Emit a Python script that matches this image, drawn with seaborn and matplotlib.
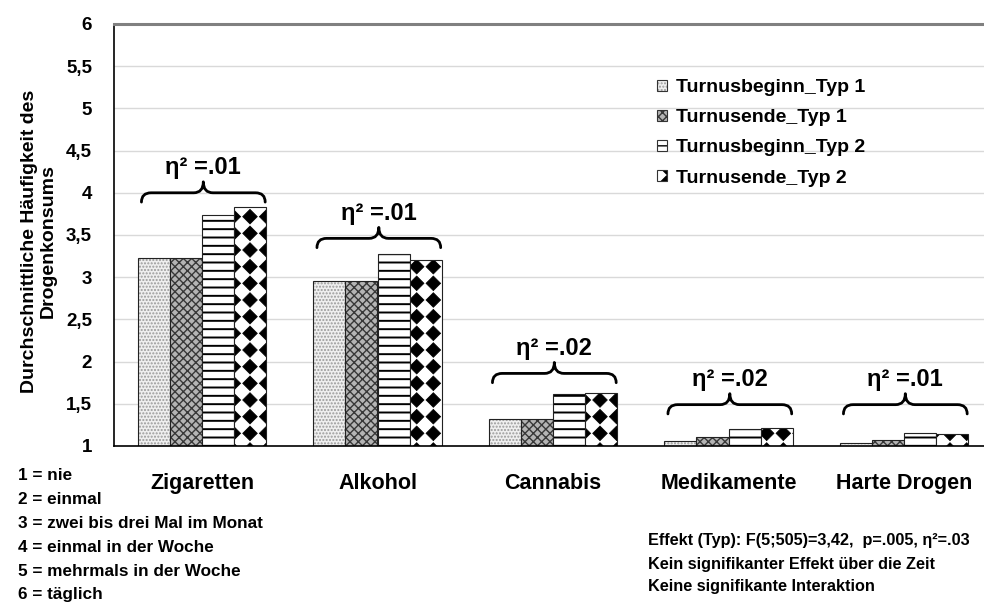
import numpy as np
import pandas as pd
import matplotlib
matplotlib.use('Agg')
import matplotlib.pyplot as plt
import matplotlib.hatch as mhatch
import matplotlib.patches as mpatches
import matplotlib.colors as mcolors
from matplotlib.path import Path
import seaborn as sns

# ---------------- data ----------------
categories = ['Zigaretten', 'Alkohol', 'Cannabis', 'Medikamente', 'Harte Drogen']
series = ['Turnusbeginn_Typ 1', 'Turnusende_Typ 1', 'Turnusbeginn_Typ 2', 'Turnusende_Typ 2']
beginn_typ1 = [3.23, 2.95, 1.32, 1.06, 1.035]
ende_typ1 = [3.23, 2.95, 1.32, 1.105, 1.07]
beginn_typ2 = [3.74, 3.275, 1.62, 1.20, 1.15]
ende_typ2 = [3.83, 3.20, 1.63, 1.21, 1.14]
eta_labels = ['η² =.01', 'η² =.01', 'η² =.02', 'η² =.02', 'η² =.01']
brace_levels = [4.0, 3.46, 1.86, 1.49, 1.49]
y_ticks = [1, 1.5, 2, 2.5, 3, 3.5, 4, 4.5, 5, 5.5, 6]
y_tick_labels = ['1', '1,5', '2', '2,5', '3', '3,5', '4', '4,5', '5', '5,5', '6']
y_label = 'Durchschnittliche Häufigkeit des\nDrogenkonsums'
scale_notes = ['1 = nie', '2 = einmal', '3 = zwei bis drei Mal im Monat',
               '4 = einmal in der Woche', '5 = mehrmals in der Woche', '6 = täglich']
stat_notes = ['Effekt (Typ): F(5;505)=3,42,  p=.005, η²=.03',
              'Kein signifikanter Effekt über die Zeit',
              'Keine signifikante Interaktion']

values = [beginn_typ1, ende_typ1, beginn_typ2, ende_typ2]
df = pd.DataFrame({
    'Droge': [c for s in series for c in categories],
    'Messung': [s for s in series for c in categories],
    'Wert': [v for vals in values for v in vals],
})


# ---------------- custom diamond hatch (replaces '*') ----------------
class FilledDiamonds(mhatch.HatchPatternBase):
    def __init__(self, hatch, density):
        self.num_rows = int(hatch.count('*') * density)
        n = self.num_rows
        self.num_vertices = 5 * (n + 1) ** 2 if n else 0

    def set_vertices_and_codes(self, vertices, codes):
        n = self.num_rows
        off = 1.0 / n
        shape = np.array([[0, -1], [1, 0], [0, 1], [-1, 0], [0, -1]], float) * off * 0.44
        scodes = np.array([Path.MOVETO, Path.LINETO, Path.LINETO, Path.LINETO,
                           Path.CLOSEPOLY], dtype=Path.code_type)
        k = 0
        for i in range(n + 1):
            for j in range(n + 1):
                vertices[k:k + 5] = shape + [i * off, j * off]
                codes[k:k + 5] = scodes
                k += 5


mhatch._hatch_types = [t for t in mhatch._hatch_types if t is not mhatch.Stars] + [FilledDiamonds]

# ---------------- style ----------------
sns.set_theme(style='white')
FONT = ['Liberation Sans', 'DejaVu Sans']
plt.rcParams['font.family'] = FONT
plt.rcParams['font.weight'] = 'bold'
plt.rcParams['hatch.linewidth'] = 1.0
for key in ['text.color', 'axes.labelcolor', 'xtick.color', 'ytick.color']:
    plt.rcParams[key] = 'black'

# facecolor, hatch, hatch colour, hatch linewidth
styles = [
    ('#efefef', '.....', '#9a9a9a', 1.0),
    ('#b4b4b4', 'xxxx', '#383838', 1.0),
    ('white', '--', 'black', 1.4),
    ('white', '*', 'black', 0.5),
]


def apply_style(p, st):
    fc, h, hc, hl = st
    p.set_facecolor(fc)
    p.set_hatch(h)
    p._hatch_color = mcolors.to_rgba(hc)
    if hasattr(p, 'set_hatch_linewidth'):
        p.set_hatch_linewidth(hl)
    p.stale = True


fig = plt.figure(figsize=(9.84, 6.08), dpi=100)
ax = fig.add_axes([114.25 / 984, 162 / 608, 877.5 / 984, 422 / 608])

sns.barplot(data=df, x='Droge', y='Wert', hue='Messung', order=categories,
            hue_order=series, width=0.73, palette=['white'] * 4,
            edgecolor='#222222', linewidth=0.8, errorbar=None, legend=False,
            saturation=1, ax=ax)

for cont, st in zip(ax.containers, styles):
    for bar in cont:
        apply_style(bar, st)

ax.set_ylim(1, 6)
ax.set_xlim(-0.5, len(categories) - 0.5)
ax.set_yticks(y_ticks)
ax.set_yticklabels(y_tick_labels)
ax.set_xlabel('')
ax.set_ylabel(y_label, fontsize=14, fontweight='bold', linespacing=1.15)
ax.yaxis.set_label_coords(-0.0655, 0.486)
ax.tick_params(axis='y', length=0, pad=16, labelsize=13.5)
ax.tick_params(axis='x', length=0, pad=19.5, labelsize=15.5)
for t in ax.get_xticklabels() + ax.get_yticklabels():
    t.set_fontweight('bold')

ax.yaxis.grid(True, color='#d9d9d9', linewidth=1.0)
ax.xaxis.grid(False)
ax.set_axisbelow(True)
ax.spines['top'].set_color('#808080')
ax.spines['top'].set_linewidth(2.2)
ax.spines['right'].set_visible(False)
ax.spines['left'].set_color('black')
ax.spines['left'].set_linewidth(1.2)
ax.spines['bottom'].set_color('black')
ax.spines['bottom'].set_linewidth(1.2)

# ---------------- braces and eta labels ----------------
first, last = ax.containers[0], ax.containers[-1]
w = 0.055
d_end = 0.11
d_tip = 0.13
for i, (lvl, lab) in enumerate(zip(brace_levels, eta_labels)):
    x0 = first[i].get_x() + 0.02
    x1 = last[i].get_x() + last[i].get_width() - 0.005
    xm = (x0 + x1) / 2
    verts = [(x0, lvl - d_end), (x0, lvl), (x0 + w, lvl),
             (xm - w, lvl), (xm, lvl), (xm, lvl + d_tip),
             (xm, lvl), (xm + w, lvl),
             (x1 - w, lvl), (x1, lvl), (x1, lvl - d_end)]
    codes = [Path.MOVETO, Path.CURVE3, Path.CURVE3,
             Path.LINETO, Path.CURVE3, Path.CURVE3,
             Path.CURVE3, Path.CURVE3,
             Path.LINETO, Path.CURVE3, Path.CURVE3]
    ax.add_patch(mpatches.PathPatch(Path(verts, codes), fill=False,
                                    edgecolor='black', linewidth=2.0,
                                    capstyle='round', joinstyle='round'))
    ax.annotate(lab, xy=(xm, lvl), xytext=(0, 18), textcoords='offset points',
                ha='center', va='center', fontsize=17, fontweight='bold')

# ---------------- legend ----------------
handles = []
for st in styles:
    hp = mpatches.Patch(facecolor=st[0], edgecolor='#333333', linewidth=0.8)
    apply_style(hp, st)
    handles.append(hp)
ax.legend(handles, series, loc='upper left', bbox_to_anchor=(657 / 984, 1 - 79 / 608),
          bbox_transform=fig.transFigure, frameon=False,
          prop={'family': FONT, 'weight': 'bold', 'size': 14},
          handlelength=0.5, handleheight=0.5, handletextpad=0.5,
          labelspacing=0.68, borderpad=0, borderaxespad=0)

# ---------------- notes ----------------
for i, line in enumerate(scale_notes):
    fig.text(18 / 984, 1 - (475 + 24 * i) / 608, line, ha='left', va='center',
             fontsize=12.3, fontweight='bold')
for i, line in enumerate(stat_notes):
    fig.text(648 / 984, 1 - (541 + 23 * i) / 608, line, ha='left', va='center',
             fontsize=11.7, fontweight='bold')

fig.savefig('out.png', dpi=100)
